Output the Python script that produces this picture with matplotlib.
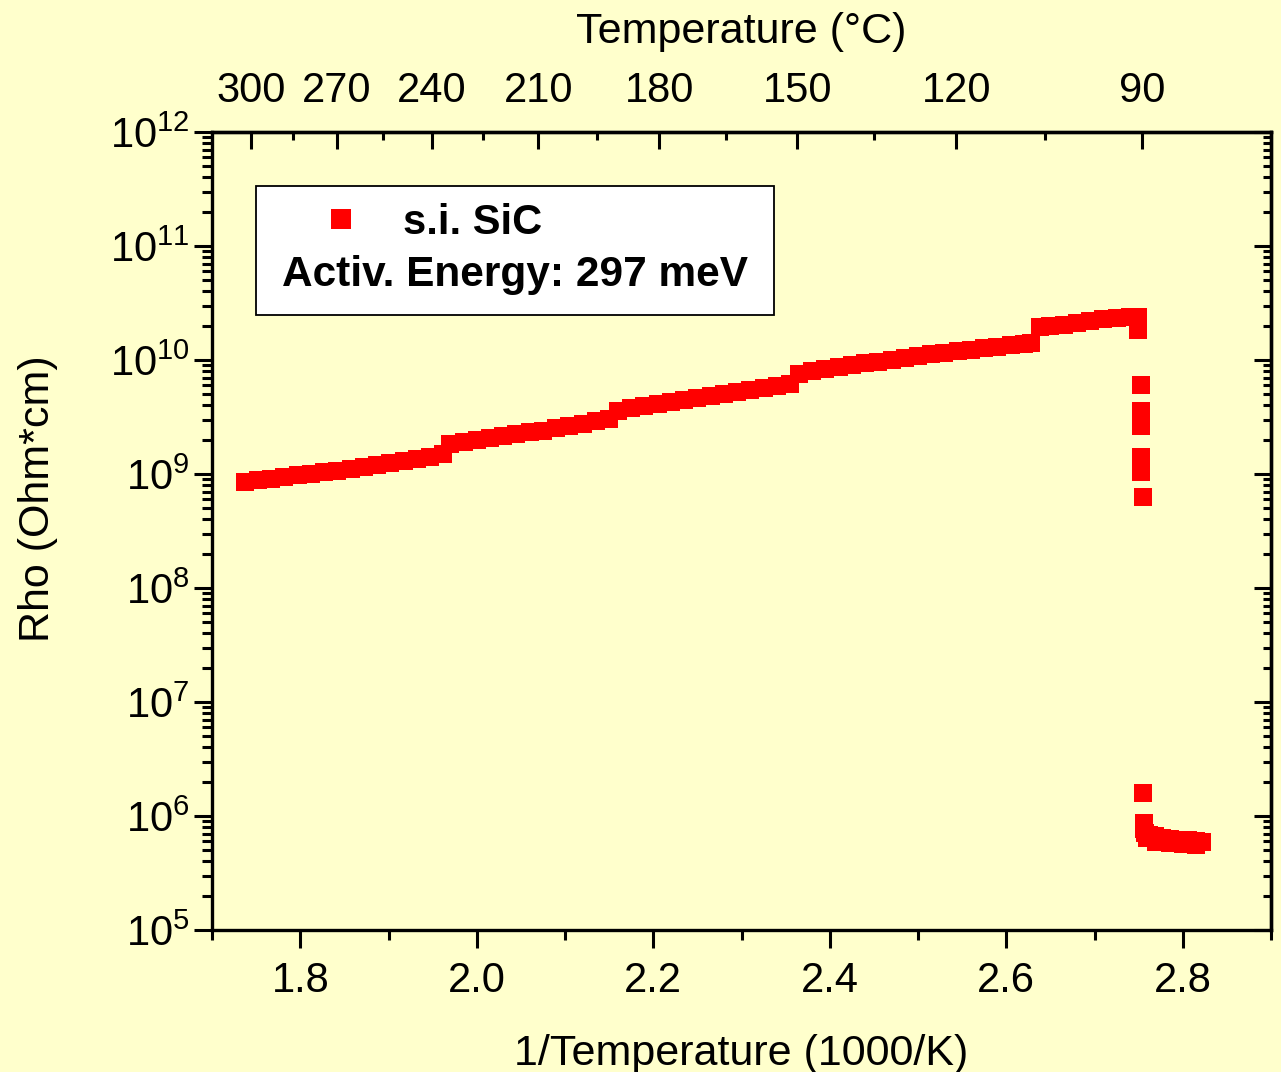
import numpy as np
import matplotlib
matplotlib.use("Agg")
import matplotlib.pyplot as plt
from matplotlib.ticker import MultipleLocator, FixedLocator, LogLocator, NullFormatter
from matplotlib.patches import Rectangle

plt.rcParams['font.family'] = ['Liberation Sans', 'DejaVu Sans']
plt.rcParams['mathtext.fontset'] = 'custom'
plt.rcParams['mathtext.rm'] = 'Liberation Sans'
plt.rcParams['mathtext.it'] = 'Liberation Sans:italic'
plt.rcParams['mathtext.bf'] = 'Liberation Sans:bold'

# 1/T (1000/K) and resistivity (Ohm*cm)
inv_t = [1.737, 1.752, 1.767, 1.782, 1.797, 1.812, 1.827, 1.842, 1.857, 1.872,
         1.887, 1.902, 1.917, 1.932, 1.947, 1.962,
         1.970, 1.985, 2.000, 2.015, 2.030, 2.045, 2.060, 2.075, 2.090, 2.105,
         2.120, 2.135, 2.150,
         2.160, 2.175, 2.190, 2.205, 2.220, 2.235, 2.250, 2.265, 2.280, 2.295,
         2.310, 2.325, 2.340, 2.355,
         2.365, 2.380, 2.395, 2.410, 2.425, 2.440, 2.455, 2.470, 2.485, 2.500,
         2.515, 2.530, 2.545, 2.560, 2.575, 2.590, 2.605, 2.620, 2.628,
         2.638, 2.650, 2.665, 2.680, 2.695, 2.710, 2.725, 2.740, 2.749, 2.749, 2.749,
         2.7527, 2.7527, 2.7527, 2.7527, 2.7527, 2.7527, 2.7527, 2.7527, 2.7527,
         2.7527, 2.7527, 2.755, 2.755,
         2.756, 2.756, 2.757, 2.762, 2.768, 2.776, 2.786, 2.796, 2.806, 2.815, 2.822,
         2.760, 2.770, 2.785, 2.800, 2.815]
rho = [8.51e8, 8.79e8, 9.08e8, 9.40e8, 9.70e8, 1.005e9, 1.038e9, 1.072e9, 1.109e9, 1.153e9,
       1.202e9, 1.250e9, 1.303e9, 1.361e9, 1.422e9, 1.486e9,
       1.841e9, 1.905e9, 1.982e9, 2.061e9, 2.143e9, 2.223e9, 2.312e9, 2.404e9, 2.506e9, 2.624e9,
       2.754e9, 2.897e9, 3.020e9,
       3.589e9, 3.784e9, 3.936e9, 4.093e9, 4.256e9, 4.426e9, 4.603e9, 4.797e9, 5.000e9, 5.224e9,
       5.458e9, 5.675e9, 5.902e9, 6.166e9,
       7.586e9, 8.035e9, 8.414e9, 8.730e9, 9.036e9, 9.354e9, 9.683e9, 1.005e10, 1.042e10, 1.081e10,
       1.122e10, 1.159e10, 1.197e10, 1.233e10, 1.271e10, 1.306e10, 1.349e10, 1.390e10, 1.413e10,
       1.950e10, 1.991e10, 2.046e10, 2.118e10, 2.198e10, 2.265e10, 2.323e10, 2.360e10, 2.382e10,
       2.089e10, 1.832e10,
       6.0e9, 3.55e9, 3.27e9, 3.02e9, 2.82e9, 2.63e9, 1.41e9, 1.31e9, 1.22e9,
       1.12e9, 1.04e9, 6.28e8, 1.6e6,
       8.71e5, 7.76e5, 7.08e5, 6.76e5, 6.61e5, 6.46e5, 6.31e5, 6.17e5, 6.10e5, 6.03e5, 5.96e5,
       6.35e5, 5.95e5, 5.75e5, 5.65e5, 5.60e5]

temp_major = [300, 270, 240, 210, 180, 150, 120, 90]
temp_minor = [285, 255, 225, 195, 165, 135, 105]

bg = '#FFFFCC'

fig = plt.figure(figsize=(12.81, 10.72), dpi=100, facecolor=bg)
ax = fig.add_axes([0.1655, 0.1325, 0.8267, 0.7444])
ax.set_facecolor(bg)

h, = ax.plot(inv_t, rho, linestyle='none', marker='s', markersize=12.5,
             color='#FF0000', markeredgewidth=0)

ax.set_yscale('log')
ax.set_xlim(1.7, 2.9)
ax.set_ylim(1e5, 1e12)

for s in ax.spines.values():
    s.set_linewidth(2.4)

ax.xaxis.set_major_locator(MultipleLocator(0.2))
ax.xaxis.set_minor_locator(MultipleLocator(0.1))
ax.yaxis.set_major_locator(LogLocator(base=10, numticks=20))
ax.yaxis.set_minor_locator(LogLocator(base=10, subs=np.arange(2, 10), numticks=20))
ax.yaxis.set_minor_formatter(NullFormatter())

ax.tick_params(which='both', direction='out', width=2.2, labelsize=30, top=False, right=False)
ax.tick_params(which='major', length=13)
ax.tick_params(which='minor', length=7)
ax.tick_params(axis='x', which='major', pad=9)
ax.tick_params(axis='y', which='major', pad=3)

ax.set_xlabel('1/Temperature (1000/K)', fontsize=31, labelpad=24)
ax.set_ylabel('Rho (Ohm*cm)', fontsize=31)
ax.yaxis.set_label_coords(-0.145, 0.54)

# right axis: ticks pointing in
ry = ax.secondary_yaxis('right')
ry.yaxis.set_major_locator(LogLocator(base=10, numticks=20))
ry.yaxis.set_minor_locator(LogLocator(base=10, subs=np.arange(2, 10), numticks=20))
ry.tick_params(which='both', direction='in', width=2.2, labelright=False)
ry.tick_params(which='major', length=12)
ry.tick_params(which='minor', length=6)
ry.yaxis.set_major_formatter(NullFormatter())
ry.yaxis.set_minor_formatter(NullFormatter())
ry.spines['right'].set_linewidth(2.4)

# top axis in degC
def to_c(x):
    x = np.asarray(x, dtype=float)
    with np.errstate(divide='ignore'):
        return 1000.0 / x - 273.15

def to_inv(t):
    t = np.asarray(t, dtype=float)
    with np.errstate(divide='ignore'):
        return 1000.0 / (t + 273.15)

tx = ax.secondary_xaxis('top', functions=(to_c, to_inv))
tx.xaxis.set_major_locator(FixedLocator(temp_major))
tx.xaxis.set_minor_locator(FixedLocator(temp_minor))
tx.xaxis.set_minor_formatter(NullFormatter())
tx.tick_params(which='both', direction='in', width=2.2, labelsize=30)
tx.tick_params(which='major', length=12, pad=15)
tx.tick_params(which='minor', length=6)
tx.spines['top'].set_linewidth(2.4)
tx.set_xlabel('Temperature (°C)', fontsize=31, labelpad=20)

# legend box
ax.add_patch(Rectangle((0.0415, 0.7707), 0.4892, 0.1616, transform=ax.transAxes,
                       facecolor='white', edgecolor='black', linewidth=1.3, zorder=5))
leg = ax.legend([h], ['s.i. SiC'], loc='center left', bbox_to_anchor=(0.102, 0.886),
                frameon=False, markerscale=1.15, handlelength=1.0, handletextpad=1.0,
                borderpad=0, borderaxespad=0, prop={'size': 30, 'weight': 'bold'})
leg.set_zorder(6)
ax.text(0.2861, 0.8208, 'Activ. Energy: 297 meV', transform=ax.transAxes,
        ha='center', va='center', fontsize=30.5, fontweight='bold', zorder=6)

fig.savefig('out.png', dpi=100, facecolor=bg)
